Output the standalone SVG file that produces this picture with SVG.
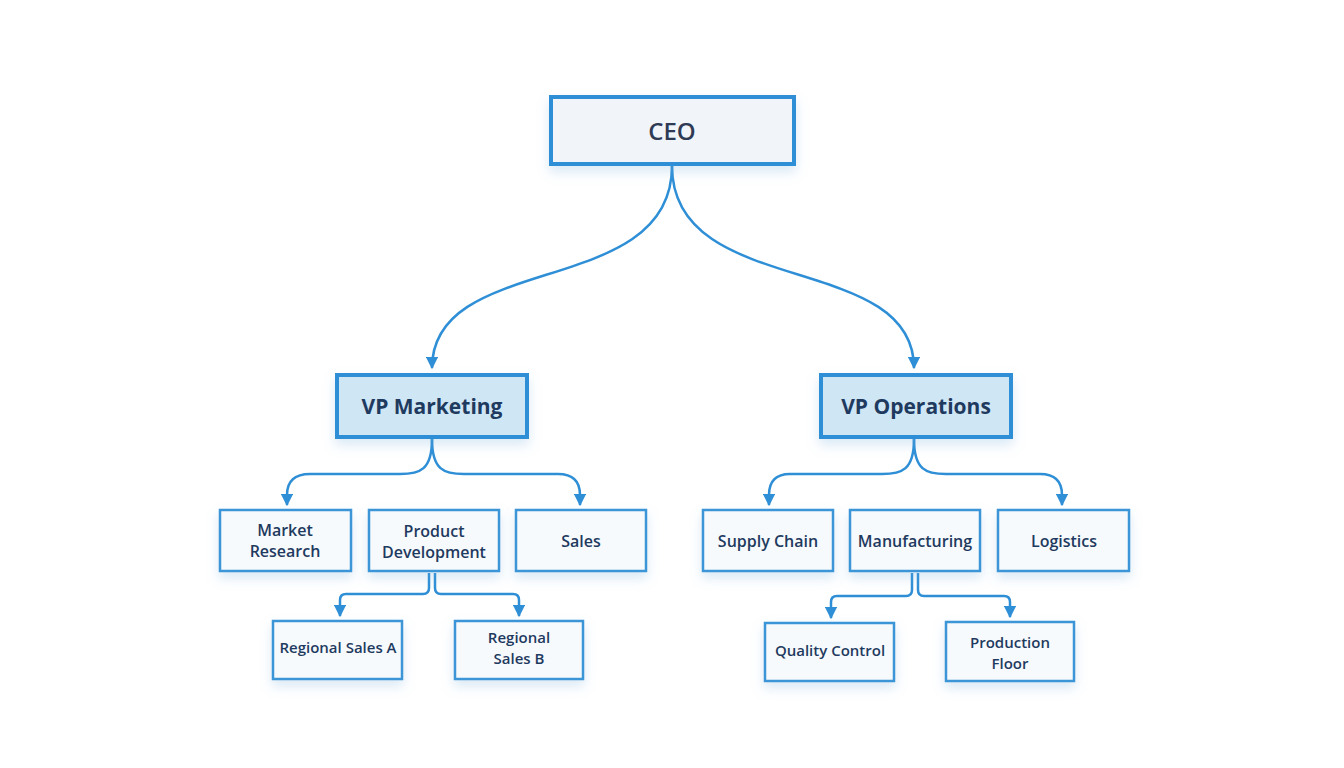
<svg xmlns="http://www.w3.org/2000/svg" width="1344" height="768" viewBox="0 0 1344 768">
<defs>
<marker id="ah" viewBox="0 0 10 10" refX="9" refY="5" markerWidth="5" markerHeight="5" orient="auto"><path d="M0,0 L10,5 L0,10 z" fill="#2f8fd6"/></marker>
<filter id="sh" x="-20%" y="-20%" width="140%" height="160%"><feDropShadow dx="0" dy="6" stdDeviation="6" flood-color="#6aa8d8" flood-opacity="0.25"/></filter>
</defs>
<style>
.box{fill:#f7fafd;stroke:#3a95d6;stroke-width:2.5;filter:url(#sh)}
.vp{fill:#cfe6f5;stroke:#2f8fd6;stroke-width:4;filter:url(#sh)}
.ceo{fill:#f1f4f8;stroke:#2f8fd6;stroke-width:4;filter:url(#sh)}
text{font-family:"Open Sans","Noto Sans",sans-serif;fill:#1f3a5f;text-anchor:middle;font-weight:600}
.t3{font-size:16px}.t4{font-size:15px}.tv{font-size:21px;font-weight:700}
.c{fill:none;stroke:#2f8fd6;stroke-width:2.5;marker-end:url(#ah)}
</style>
<rect width="1344" height="768" fill="#ffffff"/>
<g id="connectors">
<path class="c" d="M672,166 C672,300 432,250 432,368"/>
<path class="c" d="M672,166 C672,300 914,250 914,368"/>
<path class="c" d="M432,439 C432,470 420,474 400,474 L310,474 Q287,474 287,495 L287,505"/>
<path class="c" d="M432,439 C432,470 444,474 464,474 L558,474 Q580,474 580,495 L580,505"/>
<path class="c" d="M914,439 C914,470 902,474 882,474 L790,474 Q769,474 769,495 L769,505"/>
<path class="c" d="M914,439 C914,470 926,474 946,474 L1040,474 Q1062,474 1062,495 L1062,505"/>
<path class="c" d="M429,573 L429,588 Q429,594 423,594 L346,594 Q340,594 340,600 L340,616"/>
<path class="c" d="M435,573 L435,588 Q435,594 441,594 L513,594 Q519,594 519,600 L519,616"/>
<path class="c" d="M912,573 L912,590 Q912,596 906,596 L837,596 Q831,596 831,602 L831,618"/>
<path class="c" d="M918,573 L918,590 Q918,596 924,596 L1004,596 Q1010,596 1010,602 L1010,617"/>
</g>
<g id="ceo"><rect class="ceo" x="551" y="97" width="243" height="67"/><text x="672" y="140" style="font-size:24px;fill:#2f3a55">CEO</text></g>
<g id="vp-marketing"><rect class="vp" x="337" y="375" width="190" height="62"/><text class="tv" x="432" y="414">VP Marketing</text></g>
<g id="vp-operations"><rect class="vp" x="821" y="375" width="190" height="62"/><text class="tv" x="916" y="414">VP Operations</text></g>
<g id="market-research"><rect class="box" x="220" y="510" width="131" height="61"/><text class="t3" x="285" y="536">Market</text><text class="t3" x="285" y="557">Research</text></g>
<g id="product-development"><rect class="box" x="369" y="510" width="130" height="61"/><text class="t3" x="434" y="537">Product</text><text class="t3" x="434" y="558">Development</text></g>
<g id="sales"><rect class="box" x="516" y="510" width="130" height="61"/><text class="t3" x="581" y="547">Sales</text></g>
<g id="supply-chain"><rect class="box" x="703" y="510" width="130" height="61"/><text class="t3" x="768" y="547">Supply Chain</text></g>
<g id="manufacturing"><rect class="box" x="850" y="510" width="130" height="61"/><text class="t3" x="915" y="547">Manufacturing</text></g>
<g id="logistics"><rect class="box" x="998" y="510" width="131" height="61"/><text class="t3" x="1064" y="547">Logistics</text></g>
<g id="regional-sales-a"><rect class="box" x="273" y="621" width="129" height="58"/><text class="t4" x="338" y="653">Regional Sales A</text></g>
<g id="regional-sales-b"><rect class="box" x="455" y="621" width="128" height="58"/><text class="t4" x="519" y="643">Regional</text><text class="t4" x="519" y="664">Sales B</text></g>
<g id="quality-control"><rect class="box" x="765" y="623" width="129" height="58"/><text class="t4" x="830" y="656">Quality Control</text></g>
<g id="production-floor"><rect class="box" x="946" y="622" width="128" height="59"/><text class="t4" x="1010" y="648">Production</text><text class="t4" x="1010" y="669">Floor</text></g>
</svg>
